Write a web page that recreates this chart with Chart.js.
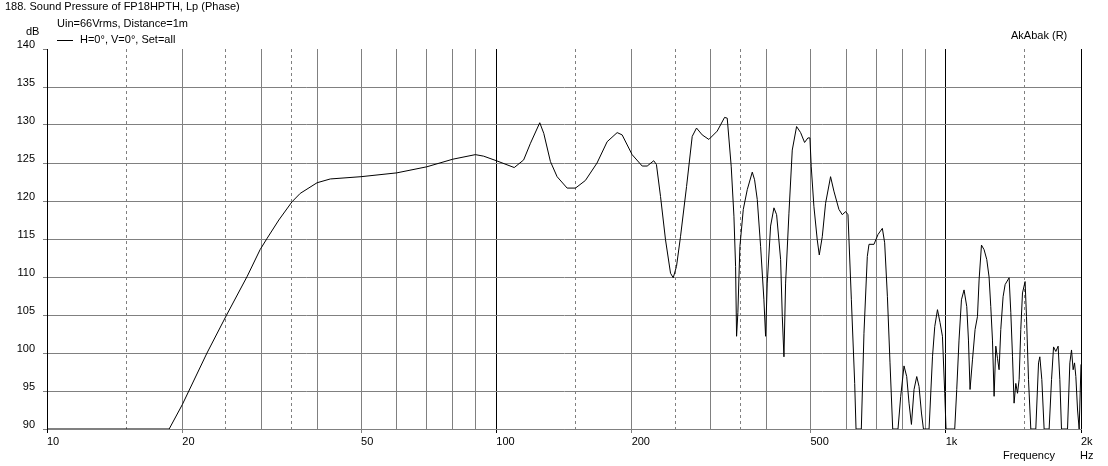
<!DOCTYPE html>
<html>
<head>
<meta charset="utf-8">
<title>188. Sound Pressure of FP18HPTH</title>
<script src="https://cdn.jsdelivr.net/npm/chart.js@4.4.0/dist/chart.umd.min.js"></script>
<style>
  html, body { margin: 0; padding: 0; background: #fff; }
  #wrap { width: 1108px; height: 466px; }
</style>
</head>
<body>
<div id="wrap"><canvas id="chart" width="1108" height="466"></canvas></div>
<script>
// Sound pressure curve (Hz / dB)
const freqHz = [
  10, 18.7, 20, 22.7, 25.1, 27.9, 29.8, 30.9, 32.8, 35.1, 36.6, 39.9, 42.7, 50, 60, 70, 80, 89.8, 93.7,
  100, 109.6, 115, 119.1, 124.9, 127.5, 131.9, 136.5, 143.7, 150, 157.8, 167.5, 176.4, 185.7, 190.5,
  200.5, 211.1, 216.6, 224, 227.1, 231.9, 237.9, 244.1, 247.5, 251.7, 256.9, 265, 272.8, 278.9, 287.1, 297.1,
  310.1, 322, 326.4, 333.2, 337.8, 340.7, 342.4, 344.7, 348.3, 354.4, 361.7, 371.1, 375.5, 380.7, 387.3, 393.9, 397.3,
  400.7, 407.6, 414.7, 420.4, 429.1, 432.8, 436.5, 440.2, 447.8, 455.5, 465.7, 475.4, 485.2, 493.5, 498.6,
  502, 508.9, 517.7, 523.1, 531.2, 540.3, 554.3, 563.8, 578.5, 588.5, 598.8, 606, 616.6, 627.2, 631.5, 648.9, 657.7,
  669.1, 674.9, 692.4, 706.9, 722.7, 731.3, 741.7, 751.6, 762.1, 783.1, 794, 807.5, 818.8, 828.6, 838.8, 850.1,
  862, 872.2, 883.1, 892.1, 918.2, 934.4, 945.4, 958.6, 971.3, 983.3, 995, 1001.6,
  1047.2, 1058.1, 1070.5, 1083.9, 1098.5, 1113.8, 1123.5, 1132.7, 1146.9, 1162.3, 1176.6, 1186.4, 1201, 1217.1,
  1234.1, 1248.7, 1259.6, 1270.7, 1281.3, 1292.5, 1303.6, 1314.4, 1326, 1341.7, 1355.7, 1383.7, 1395.9, 1408.1,
  1419.5, 1432, 1444.6, 1456.6, 1469, 1481.9, 1501.8, 1512.6, 1528.3, 1546.4, 1586.5, 1608.9, 1619.7, 1636.2,
  1655.6, 1698.8, 1719.7, 1737.6, 1758.1, 1778.8, 1794.5, 1809.8, 1866.5, 1889, 1905.2, 1921.1, 1934.9, 1947.9,
  1965, 1981.3, 2000
];
const splDb = [
  90, 90, 93.2, 100, 105, 110.1, 113.6, 115.1, 117.5, 119.9, 121, 122.4, 122.9, 123.2, 123.7, 124.5, 125.5, 126.1, 125.9,
  125.3, 124.4, 125.4, 127.6, 130.3, 128.9, 125.2, 123.2, 121.7, 121.7, 122.7, 125, 127.8, 129, 128.7,
  126.1, 124.6, 124.6, 125.3, 124.8, 120.6, 114.9, 110.5, 109.9, 111.4, 115.3, 121.9, 128.5, 129.6, 128.7, 128.1,
  129.2, 131, 130.9, 124.5, 118, 111.4, 102.2, 105.3, 114, 118.9, 121.5, 123.8, 122.8, 120.2, 114, 107, 102.2,
  109.2, 116.7, 119.1, 118.2, 112.3, 104.8, 99.5, 109.2, 118.4, 126.7, 129.8, 129, 127.7, 128.3, 128.3,
  124.5, 119.3, 114.9, 112.9, 115.3, 119.7, 123.2, 121.3, 118.9, 118.2, 118.6, 118.2, 107, 96, 90, 90, 102.6,
  112.7, 114.3, 114.3, 115.6, 116.4, 114.5, 107.4, 98.7, 90, 90, 94.3, 98.3, 96.9, 93.4, 90.6, 95.2,
  96.9, 95.6, 92.1, 90, 90, 99.5, 103.5, 105.7, 104, 102.2, 94.7, 90,
  90, 95.2, 101.7, 107, 108.3, 106.1, 101.7, 95.2, 99.1, 103.1, 104.8, 109.6, 114.2, 113.6,
  112.3, 110, 106.1, 101.7, 94.3, 100.9, 99.3, 97.8, 103.1, 107.4, 109, 109.9, 105.3, 99.5,
  93.4, 96, 94.7, 96.5, 103.1, 107.9, 109.4, 104.8, 96.5, 90, 90, 98.7, 99.5, 96.5,
  90, 90, 96.5, 100.8, 100.2, 100.9, 96.5, 90, 90, 98.7, 100.4, 97.8, 98.7, 96.9,
  92.5, 90, 98.5
];

// Frequency grid: solid lines, dashed lines, black decade lines, labelled ticks
const solidTicks = [10, 20, 30, 40, 50, 60, 70, 80, 90, 100, 200, 300, 400, 500, 600, 700, 800, 900, 1000, 2000];
const dashedTicks = [15, 25, 35, 150, 250, 350, 1500];
const decadeTicks = [10, 100, 1000, 2000];
const freqLabels = { 10: '10', 20: '20', 50: '50', 100: '100', 200: '200', 500: '500', 1000: '1k', 2000: '2k' };

// Level axis ticks (dB)
const dbTicks = [90, 95, 100, 105, 110, 115, 120, 125, 130, 135, 140];

const FONT_FAMILY = "'Liberation Sans', Arial, sans-serif";
const GRID_GRAY = '#808080';

Chart.defaults.font.family = FONT_FAMILY;
Chart.defaults.font.size = 11;
Chart.defaults.color = '#000';

// Header texts, legend sample and axis captions
const captions = {
  id: 'captions',
  afterDraw(chart) {
    const ctx = chart.ctx;
    ctx.save();
    ctx.font = '11px ' + FONT_FAMILY;
    ctx.fillStyle = '#000';
    ctx.textBaseline = 'middle';
    ctx.textAlign = 'left';
    ctx.fillText('188. Sound Pressure of FP18HPTH, Lp (Phase)', 5, 7);
    ctx.fillText('Uin=66Vrms, Distance=1m', 57, 24);
    ctx.fillText('dB', 26, 32);
    ctx.fillText('H=0°, V=0°, Set=all', 80, 40);
    ctx.fillText('AkAbak (R)', 1011, 36);
    ctx.fillText('Frequency', 1003, 456);
    ctx.fillText('Hz', 1080, 456);

    ctx.strokeStyle = '#000';
    ctx.lineWidth = 1;
    ctx.beginPath();
    ctx.moveTo(57, 40.5);
    ctx.lineTo(73, 40.5);
    ctx.stroke();
    ctx.restore();
  }
};

const ctx = document.getElementById('chart').getContext('2d');
new Chart(ctx, {
  type: 'line',
  data: {
    datasets: [{
      data: freqHz.map((f, i) => ({ x: f, y: splDb[i] })),
      borderColor: '#000',
      borderWidth: 1,
      pointRadius: 0,
      tension: 0,
      fill: false
    }]
  },
  options: {
    responsive: false,
    animation: false,
    events: [],
    layout: { padding: { top: 49, right: 27, left: 0, bottom: 0 } },
    plugins: {
      legend: { display: false },
      title: { display: false },
      tooltip: { enabled: false }
    },
    scales: {
      x: {
        type: 'logarithmic',
        position: 'bottom',
        min: 10,
        max: 2000,
        afterBuildTicks: scale => { scale.ticks = solidTicks.map(v => ({ value: v })); },
        afterFit: scale => { scale.height = 37; },
        ticks: {
          autoSkip: false,
          maxRotation: 0,
          align: 'start',
          padding: 2,
          callback: value => freqLabels[value] || ''
        },
        grid: {
          color: c => (c.tick && decadeTicks.includes(c.tick.value)) ? '#000' : GRID_GRAY,
          tickColor: c => {
            if (!c.tick || !freqLabels[c.tick.value]) return 'rgba(0,0,0,0)';
            return decadeTicks.includes(c.tick.value) ? '#000' : GRID_GRAY;
          },
          tickLength: 4,
          lineWidth: 1
        },
        border: { color: GRID_GRAY }
      },
      x2: {
        type: 'logarithmic',
        position: 'bottom',
        min: 10,
        max: 2000,
        afterBuildTicks: scale => { scale.ticks = dashedTicks.map(v => ({ value: v })); },
        afterFit: scale => { scale.height = 0; },
        ticks: { display: false },
        grid: { color: GRID_GRAY, drawTicks: false, lineWidth: 1 },
        border: { display: false, dash: [3, 3] }
      },
      y: {
        type: 'linear',
        min: 90,
        max: 140,
        afterBuildTicks: scale => { scale.ticks = dbTicks.map(v => ({ value: v })); },
        afterFit: scale => { scale.width = 47; },
        ticks: { padding: 8, labelOffset: -4 },
        grid: {
          color: c => (c.tick && c.tick.value === 140) ? 'rgba(0,0,0,0)' : GRID_GRAY,
          tickColor: GRID_GRAY,
          tickLength: 4,
          lineWidth: 1
        },
        border: { color: '#000' }
      }
    }
  },
  plugins: [captions]
});
</script>
</body>
</html>
